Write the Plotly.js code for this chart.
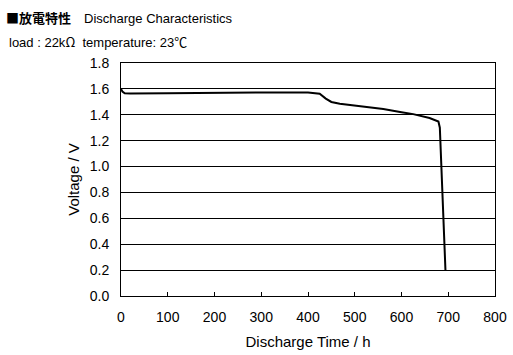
<!DOCTYPE html>
<html>
<head>
<meta charset="utf-8">
<script src="https://cdn.plot.ly/plotly-3.0.1.min.js"></script>
<style>html,body{margin:0;padding:0;background:#fff;}#chart{width:513px;height:355px;}</style>
</head>
<body>
<div id="chart"></div>
<script>
const hours = [0, 3, 8, 20, 100, 200, 300, 400, 425, 438, 450, 468, 520, 561, 600, 625, 660, 679, 682, 694];
const voltage = [1.60, 1.58, 1.566, 1.564, 1.567, 1.571, 1.573, 1.572, 1.563, 1.525, 1.499, 1.486, 1.465, 1.444, 1.42, 1.405, 1.375, 1.348, 1.30, 0.20];
const xTicks = [0, 100, 200, 300, 400, 500, 600, 700, 800];
const yTicks = [0.0, 0.2, 0.4, 0.6, 0.8, 1.0, 1.2, 1.4, 1.6, 1.8];
const titleLine1 = "<span style=\"font-family:'Noto Sans CJK JP'\"><b>■放電特性</b></span>　Discharge Characteristics";
const titleLine2 = "load : 22k<span style=\"font-family:'Noto Sans CJK JP'\">Ω</span>  temperature: 23<span style=\"font-family:'Noto Sans CJK JP'\">℃</span>";

const font = "Liberation Sans, Arial, sans-serif";
const W = 374, H = 233, L = 121, T = 63;
const px = x => (x - L) / W;
const py = y => (T + H - y) / H;

Plotly.newPlot('chart', [{
  x: hours, y: voltage, type: 'scatter', mode: 'lines',
  line: {color: '#000', width: 2}, hoverinfo: 'none'
}], {
  width: 513, height: 355,
  margin: {l: L, r: 513 - L - W, t: T, b: 355 - T - H, pad: 0},
  paper_bgcolor: '#fff', plot_bgcolor: '#fff',
  showlegend: false,
  font: {family: font, size: 14, color: '#000'},
  xaxis: {
    range: [0, 800], tickvals: xTicks, ticktext: xTicks.map(String),
    ticks: 'inside', ticklen: 4, tickcolor: '#000', tickwidth: 1,
    showline: true, linecolor: '#000', linewidth: 1, mirror: true,
    showgrid: false, zeroline: false,
    ticklabelstandoff: 8,
    tickfont: {family: font, size: 14, color: '#000'},
    title: {text: 'Discharge Time / h', font: {family: font, size: 15, color: '#000'}, standoff: 12}
  },
  yaxis: {
    range: [0, 1.8], tickvals: yTicks, ticktext: yTicks.map(v => v.toFixed(1)),
    ticks: '', showline: true, linecolor: '#000', linewidth: 1, mirror: true,
    showgrid: true, gridcolor: '#000', gridwidth: 1, zeroline: false,
    ticklabelstandoff: 8,
    tickfont: {family: font, size: 14, color: '#000'},
    title: {text: 'Voltage / V', font: {family: font, size: 15, color: '#000'}, standoff: 6}
  },
  annotations: [
    {text: titleLine1, xref: 'paper', yref: 'paper', x: px(4), y: py(17), xanchor: 'left', yanchor: 'middle', showarrow: false, font: {family: font, size: 13, color: '#000'}},
    {text: titleLine2, xref: 'paper', yref: 'paper', x: px(7), y: py(41), xanchor: 'left', yanchor: 'middle', showarrow: false, font: {family: font, size: 13, color: '#000'}}
  ]
}, {staticPlot: true, displayModeBar: false});
</script>
</body>
</html>
